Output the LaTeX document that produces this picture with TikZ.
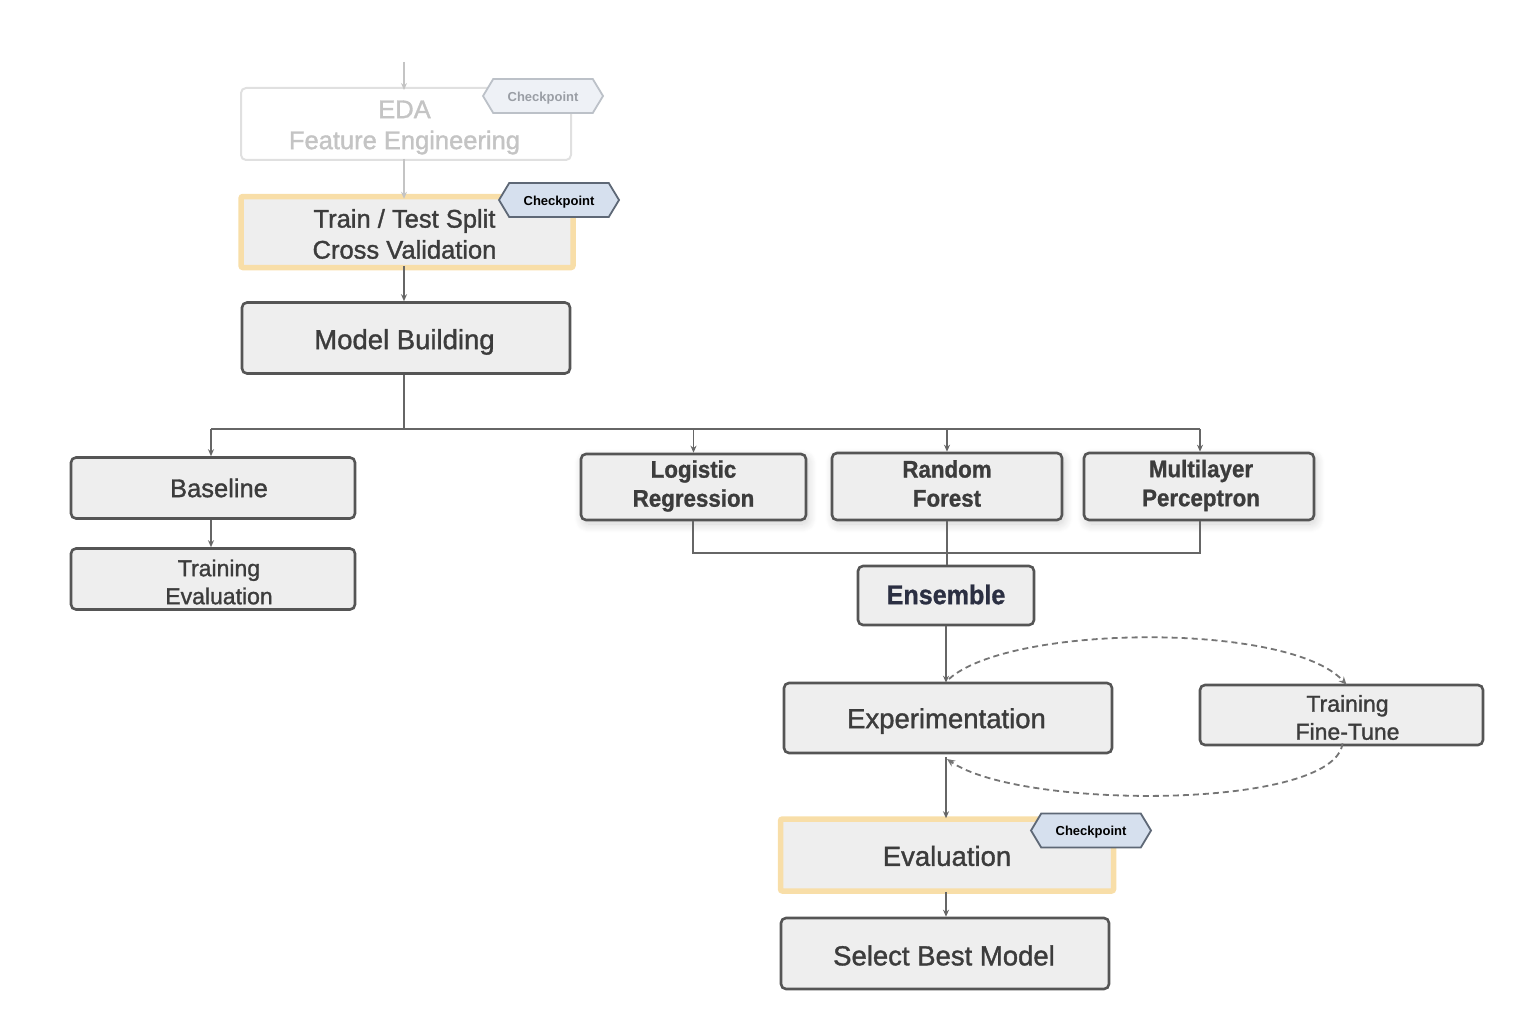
\documentclass[tikz,border=0pt]{standalone}
\usepackage{fontspec}
\setmainfont[FakeBold=1.3]{Liberation Sans}
\newfontfamily\condb[FakeStretch=0.93,FakeBold=1]{Liberation Sans Bold}
\newfontfamily\ckfont{Liberation Sans Bold}
\usetikzlibrary{arrows.meta,shapes.symbols,shadows.blur}
\definecolor{boxfill}{HTML}{EEEEEE}
\definecolor{boxline}{HTML}{555555}
\definecolor{txt}{HTML}{3C3C3C}
\definecolor{conn}{HTML}{666666}
\definecolor{hl}{HTML}{F8DEA8}
\definecolor{fadeline}{HTML}{E0E0E0}
\definecolor{fadetxt}{HTML}{C4C4C4}
\definecolor{ckfill}{HTML}{D6E0EE}
\definecolor{ckline}{HTML}{5E6876}
\definecolor{ckfadefill}{HTML}{EEF1F6}
\definecolor{ckfadeline}{HTML}{BCC1C8}
\definecolor{ckfadetxt}{HTML}{9A9EA5}
\definecolor{navy}{HTML}{2B2F42}
\tikzset{
  stepbox/.style={draw=boxline, fill=boxfill, line width=2.6pt, rounded corners=5pt,
    inner sep=0pt},
  hlbox/.style={draw=hl, fill=boxfill, line width=5.5pt, rounded corners=2pt,
    inner sep=0pt},
  fadebox/.style={draw=fadeline, fill=white, line width=2pt, rounded corners=5pt,
    inner sep=0pt},
  modelbox/.style={stepbox, blur shadow={shadow blur radius=9pt, shadow xshift=2pt,
    shadow yshift=-4pt, shadow opacity=18, shadow blur steps=10}},
  ckpt/.style={signal, signal to=west and east, signal pointer angle=118,
    draw=ckline, fill=ckfill, line width=1.8pt, minimum width=120pt, minimum height=34pt,
    inner sep=0pt},
  ckfade/.style={ckpt, draw=ckfadeline, fill=ckfadefill},
  t/.style={align=center, inner sep=0pt, text=txt},
  ft/.style={t, text=fadetxt},
  cktext/.style={inner sep=0pt, font=\ckfont\fontsize{13}{15}\selectfont, text=black, yshift=-2pt},
  line/.style={draw=conn, line width=1.8pt},
  arr/.style={line, -{Stealth[length=7pt,width=6pt]}},
  fadearr/.style={draw=fadetxt, line width=1.5pt, -{Stealth[length=7pt,width=6pt]}},
  dasharr/.style={draw=conn!90, line width=1.8pt, dash pattern=on 6pt off 4pt,
    -{Stealth[length=8pt,width=7pt]}},
  big/.style={font=\fontsize{27.5}{33}\selectfont},
  mid/.style={font=\fontsize{25.5}{31}\selectfont},
  small/.style={font=\fontsize{23}{28}\selectfont},
  cond/.style={font=\condb\fontsize{24}{29}\selectfont},
}
\begin{document}
\begin{tikzpicture}[x=1pt,y=-1pt]
\useasboundingbox (0,0) rectangle (1526,1022);

% top faded part
\coordinate (topin) at (404,62);
\node[fadebox, minimum width=330pt, minimum height=72pt,
  label={[ft, mid, xshift=-1.5pt, yshift=-3.5pt]center:EDA\\Feature Engineering}] (eda) at (406,124) {};
\node[ckfade, label={[cktext, text=ckfadetxt]center:Checkpoint}] (ck1) at (543,96) {};

\node[hlbox, minimum width=332pt, minimum height=71pt,
  label={[t, mid, xshift=-2.5pt, yshift=-2pt]center:Train / Test Split\\Cross Validation}] (tts) at (407,232) {};
\node[ckpt, label={[cktext]center:Checkpoint}] (ck2) at (559,200) {};

\node[stepbox, minimum width=328pt, minimum height=71pt,
  label={[t, big, xshift=-1.5pt, yshift=-4pt]center:Model Building}] (mb) at (406,338) {};

\node[stepbox, minimum width=284pt, minimum height=61pt,
  label={[t, mid, xshift=6pt]center:Baseline}] (base) at (213,488) {};
\node[stepbox, minimum width=284pt, minimum height=61pt,
  label={[t, small, xshift=6pt, yshift=-3pt]center:Training\\Evaluation}] (te) at (213,579) {};

\node[modelbox, minimum width=225pt, minimum height=66pt,
  label={[t, cond, yshift=1pt]center:Logistic\\Regression}] (lr) at (693.5,487) {};
\node[modelbox, minimum width=230pt, minimum height=67pt,
  label={[t, cond, yshift=3pt]center:Random\\Forest}] (rf) at (947,486.5) {};
\node[modelbox, minimum width=230pt, minimum height=67pt,
  label={[t, cond, xshift=2pt, yshift=1pt]center:Multilayer\\Perceptron}] (mlp) at (1199,486.5) {};

\node[stepbox, minimum width=176pt, minimum height=59pt,
  label={[t, font=\condb\fontsize{27}{32}\selectfont, text=navy, yshift=1pt]center:Ensemble}] (ens) at (946,595.5) {};

\node[stepbox, minimum width=328pt, minimum height=70pt,
  label={[t, big, xshift=-1.5pt, yshift=-3pt]center:Experimentation}] (exp) at (948,718) {};
\node[stepbox, minimum width=283pt, minimum height=60pt,
  label={[t, small, xshift=6pt, yshift=-2.5pt]center:Training\\Fine-Tune}] (ftn) at (1341.5,715) {};

\node[hlbox, minimum width=333pt, minimum height=72pt,
  label={[t, big, yshift=-1pt]center:Evaluation}] (evl) at (947,855) {};
\node[ckpt, label={[cktext]center:Checkpoint}] (ck3) at (1091,830.5) {};

\node[stepbox, minimum width=328pt, minimum height=71pt,
  label={[t, big, xshift=-1pt, yshift=-2pt]center:Select Best Model}] (sbm) at (945,953.5) {};

% connectors
\draw[fadearr] (topin) -- ([yshift=-3pt]eda.north -| topin);
\draw[fadearr] ([yshift=2pt]eda.south -| topin) -- ([yshift=-5pt]tts.north -| topin);
\draw[arr] ([yshift=4pt]tts.south -| topin) -- (mb.north -| topin);

\coordinate (busL) at (211,429);
\coordinate (busR) at (1200,429);
\draw[line] (mb.south -| topin) -- (topin |- busL);
\draw[line] (busL) -- (busR);
\draw[arr] (busL) -- (base.north -| busL);
\draw[arr] (lr.north |- busL) -- (lr.north);
\draw[arr] (rf.north |- busL) -- (rf.north);
\draw[arr] (busR) -- (mlp.north -| busR);
\draw[arr] (base.south -| busL) -- (te.north -| busL);

\coordinate (merge) at (693,553);
\draw[line] (lr.south -| merge) -- (merge) -| (mlp.south -| busR);
\draw[line] (rf.south) -- (ens.north -| rf.south);

\draw[arr] (ens.south) -- ([yshift=-1pt]exp.north -| ens.south);
\coordinate (expdown) at (946,757);
\draw[arr] (expdown) -- ([yshift=-2pt]evl.north -| expdown);
\draw[arr] ([yshift=2pt]evl.south -| expdown) -- (sbm.north -| expdown);

% loop
\coordinate (lt) at (949,679);
\coordinate (lb) at (947,759);
\draw[dasharr] (lt) .. controls (1010,624) and (1290,622) .. ([xshift=5pt,yshift=-1pt]ftn.north);
\draw[dasharr] ([xshift=1pt,yshift=3pt]ftn.south) .. controls (1335,810) and (1020,810) .. (lb);
\end{tikzpicture}
\end{document}
